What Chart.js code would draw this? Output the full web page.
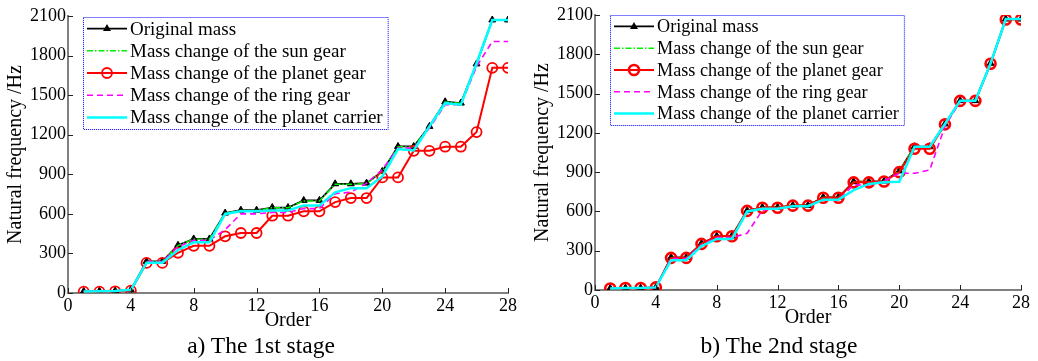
<!DOCTYPE html>
<html>
<head>
<meta charset="utf-8">
<script src="https://cdn.jsdelivr.net/npm/chart.js@4.4.0/dist/chart.umd.min.js"></script>
<style>
html,body{margin:0;padding:0;background:#fff;}
#wrap{position:relative;width:1038px;height:361px;overflow:hidden;}
.cv{position:absolute;top:0;}
.cap{position:absolute;top:332px;font-family:"Liberation Serif","Times New Roman",serif;font-size:23.5px;color:#000;white-space:nowrap;transform:translateX(-50%);}
</style>
</head>
<body>
<div id="wrap">
  <div class="cv" style="left:0;width:519px;height:361px;"><canvas id="ca"></canvas></div>
  <div class="cv" style="left:519px;width:519px;height:361px;"><canvas id="cb"></canvas></div>
  <div class="cap" style="left:261px;">a) The 1st stage</div>
  <div class="cap" style="left:779px;">b) The 2nd stage</div>
</div>
<script>
// ---- data ----
const orders = [1,2,3,4,5,6,7,8,9,10,11,12,13,14,15,16,17,18,19,20,21,22,23,24,25,26,27,28];
const seriesNames = ["Original mass","Mass change of the sun gear","Mass change of the planet gear","Mass change of the ring gear","Mass change of the planet carrier"];
const xTicks = [0,4,8,12,16,20,24,28];
const yTicks = [0,300,600,900,1200,1500,1800,2100];

// 1st stage
const origA    = [12,14,16,24,240,240,362,410,410,606,628,628,648,648,702,702,828,828,833,922,1111,1111,1263,1450,1440,1737,2070,2070];
const sunA     = [12,14,16,24,238,238,360,408,408,604,626,626,646,646,698,698,824,824,830,918,1108,1108,1260,1448,1438,1735,2068,2068];
const planetA  = [10,10,13,18,228,228,305,358,358,430,455,455,586,586,619,619,689,720,720,876,876,1078,1078,1109,1109,1220,1707,1707];
const ringA    = [12,14,16,24,238,238,350,400,400,480,600,600,610,610,640,640,752,765,833,934,1098,1098,1250,1427,1427,1717,1907,1907];
const carrierA = [12,14,16,24,230,230,326,384,384,599,620,620,625,625,664,664,763,795,795,884,1091,1081,1263,1439,1427,1742,2070,2070];

// 2nd stage
const origB    = [12,15,15,20,249,249,356,412,412,606,631,631,646,646,708,708,827,827,832,909,1094,1094,1268,1446,1446,1731,2069,2069];
const sunB     = [12,15,15,20,248,248,354,410,410,605,630,630,645,645,706,706,825,825,831,907,1092,1092,1266,1445,1445,1730,2068,2068];
const planetB  = [12,15,15,20,245,245,352,410,410,604,628,628,644,644,705,705,822,822,828,900,1079,1079,1265,1444,1444,1728,2066,2066];
const ringB    = [12,15,15,20,240,240,345,400,400,433,610,620,640,640,687,687,802,802,832,891,891,916,1250,1440,1440,1731,2069,2069];
const carrierB = [12,15,15,20,228,228,335,390,390,600,620,620,640,640,690,690,763,810,822,827,1094,1094,1268,1446,1446,1731,2069,2069];

const FONT = "'Liberation Serif','Times New Roman',serif";

function pts(arr){ return arr.map((v,i)=>({x:orders[i], y:v})); }

function makeDatasets(o,s,p,r,c,circleW){
  return [
    {label:seriesNames[0], data:pts(o), borderColor:'#000', backgroundColor:'#000', borderWidth:1.8,
     pointStyle:'triangle', pointRadius:4, pointBorderWidth:1, order:5},
    {label:seriesNames[1], data:pts(s), borderColor:'#00ee00', borderWidth:1.5, borderDash:[6,2,1.5,2],
     pointRadius:0, order:4},
    {label:seriesNames[2], data:pts(p), borderColor:'#ff0000', backgroundColor:'rgba(0,0,0,0)', borderWidth:2,
     pointStyle:'circle', pointRadius:5, pointBorderWidth:circleW, pointBorderColor:'#ff0000', order:3},
    {label:seriesNames[3], data:pts(r), borderColor:'#ff00ff', borderWidth:1.6, borderDash:[6,4],
     pointRadius:0, order:2},
    {label:seriesNames[4], data:pts(c), borderColor:'#00ffff', borderWidth:2.5,
     pointRadius:0, order:1}
  ];
}

const inwardTicks = {
  id:'inwardTicks',
  afterDraw(chart){
    const ctx = chart.ctx, ca = chart.chartArea;
    const xs = chart.scales.x, ys = chart.scales.y;
    ctx.save();
    ctx.strokeStyle = '#222'; ctx.lineWidth = 1;
    xTicks.forEach(t=>{ const x = Math.round(xs.getPixelForValue(t))+0.5;
      ctx.beginPath(); ctx.moveTo(x, ca.bottom); ctx.lineTo(x, ca.bottom-5); ctx.stroke(); });
    yTicks.forEach(t=>{ const y = Math.round(ys.getPixelForValue(t))+0.5;
      ctx.beginPath(); ctx.moveTo(ca.left, y); ctx.lineTo(ca.left+5, y); ctx.stroke(); });
    ctx.restore();
  }
};

const boxLegend = {
  id:'boxLegend',
  afterDraw(chart, args, opts){
    const ctx = chart.ctx, ca = chart.chartArea;
    const ds = chart.data.datasets;
    ctx.save();
    ctx.font = opts.fontSize + "px " + FONT;
    let maxW = 0;
    ds.forEach(d=>{ maxW = Math.max(maxW, ctx.measureText(d.label).width); });
    const bx = ca.left + opts.dx, by = ca.top + opts.dy;
    const sampleL = 4, sampleW = 40, textX = sampleL + sampleW + 3;
    const bw = textX + maxW + 5, rowH = opts.rowH, bh = rowH*5 + 1;
    ctx.fillStyle = '#fff';
    ctx.fillRect(bx, by, bw, bh);
    ctx.strokeStyle = '#0000ff'; ctx.lineWidth = 1; ctx.setLineDash([1,1]);
    ctx.strokeRect(bx+0.5, by+0.5, bw, bh);
    ctx.setLineDash([]);
    ds.forEach((d,i)=>{
      const y = by + rowH*i + rowH/2 + 0.5;
      ctx.strokeStyle = d.borderColor; ctx.lineWidth = d.borderWidth;
      ctx.setLineDash(d.borderDash || []);
      ctx.beginPath(); ctx.moveTo(bx+sampleL, y); ctx.lineTo(bx+sampleL+sampleW, y); ctx.stroke();
      ctx.setLineDash([]);
      const mx = bx+sampleL+sampleW/2;
      if (d.pointStyle==='triangle'){
        ctx.fillStyle = '#000'; ctx.beginPath();
        ctx.moveTo(mx, y-4.5); ctx.lineTo(mx+4, y+2.5); ctx.lineTo(mx-4, y+2.5); ctx.closePath(); ctx.fill();
      } else if (d.pointStyle==='circle'){
        ctx.strokeStyle = '#ff0000'; ctx.lineWidth = d.pointBorderWidth;
        ctx.beginPath(); ctx.arc(mx, y, 5, 0, Math.PI*2); ctx.stroke();
      }
      ctx.fillStyle = '#000'; ctx.textBaseline = 'middle'; ctx.textAlign = 'left';
      ctx.fillText(d.label, bx+textX, y+1);
    });
    ctx.restore();
  }
};

function makeChart(id, datasets, padding, yWidth, legendOpts){
  return new Chart(document.getElementById(id), {
    type:'line',
    data:{datasets},
    plugins:[inwardTicks, boxLegend],
    options:{
      responsive:true, maintainAspectRatio:false, animation:false,
      layout:{padding},
      plugins:{legend:{display:false}, tooltip:{enabled:false}, boxLegend:legendOpts},
      elements:{line:{tension:0}},
      scales:{
        x:{type:'linear', min:0, max:28,
           afterBuildTicks(s){ s.ticks = xTicks.map(v=>({value:v})); },
           afterFit(s){ s.height = 40; },
           grid:{display:true, drawOnChartArea:false, drawTicks:false},
           border:{display:true, color:'#808080', width:2},
           ticks:{font:{family:FONT, size:18}, color:'#000', padding:2, maxRotation:0, callback:(v)=>String(v)},
           title:{display:true, text:'Order', font:{family:FONT, size:20}, color:'#000', padding:{top:0,bottom:0}}
        },
        y:{type:'linear', min:0, max:2100,
           afterBuildTicks(s){ s.ticks = yTicks.map(v=>({value:v})); },
           afterFit(s){ s.width = yWidth; },
           grid:{display:true, drawOnChartArea:false, drawTicks:false},
           border:{display:true, color:'#808080', width:2},
           ticks:{font:{family:FONT, size:18}, color:'#000', padding:2, callback:(v)=>String(v)},
           title:{display:true, text:'Natural frequency /Hz', font:{family:FONT, size:20}, color:'#000', padding:{top:4,bottom:0}}
        }
      }
    }
  });
}

makeChart('ca', makeDatasets(origA,sunA,planetA,ringA,carrierA,1.8), {top:16,right:9,bottom:28,left:0}, 68, {dx:15, dy:1, rowH:22.2, fontSize:19});
makeChart('cb', makeDatasets(origB,sunB,planetB,ringB,carrierB,2.6), {top:15,right:17,bottom:31,left:8}, 68, {dx:15, dy:0, rowH:21.8, fontSize:18.2});
</script>
</body>
</html>
